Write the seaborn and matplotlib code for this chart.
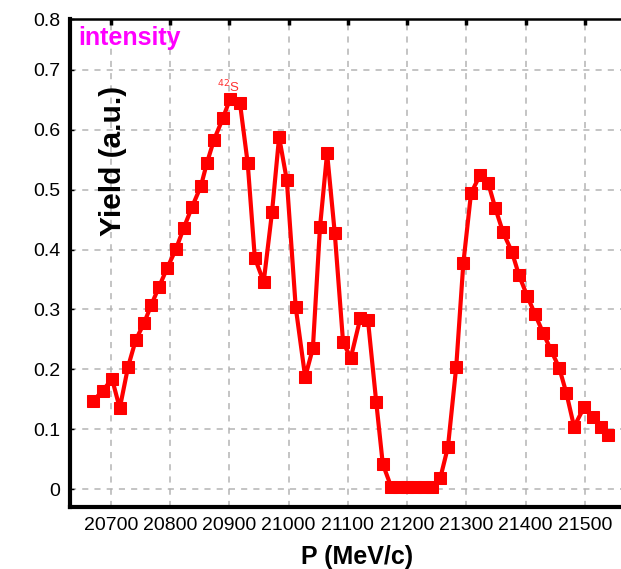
import matplotlib
matplotlib.use("Agg")
import matplotlib.pyplot as plt
import seaborn as sns
import pandas as pd

# ---- data ----
momentum = [20670, 20686, 20702, 20715, 20729, 20742, 20756, 20768, 20781, 20795,
            20810, 20823, 20837, 20852, 20862, 20874, 20889, 20901, 20918, 20931,
            20943, 20958, 20972, 20984, 20997, 21012, 21028, 21041, 21053, 21065,
            21078, 21092, 21105, 21121, 21134, 21148, 21159, 21173, 21187, 21200,
            21214, 21228, 21242, 21256, 21269, 21283, 21295, 21308, 21323, 21337,
            21349, 21362, 21377, 21389, 21403, 21416, 21430, 21443, 21457, 21469,
            21482, 21499, 21514, 21528, 21540]
yield_vals = [0.147, 0.164, 0.184, 0.135, 0.204, 0.249, 0.277, 0.307, 0.337, 0.369,
              0.401, 0.436, 0.471, 0.506, 0.544, 0.583, 0.619, 0.651, 0.644, 0.544,
              0.386, 0.346, 0.462, 0.588, 0.516, 0.304, 0.187, 0.235, 0.437, 0.561,
              0.427, 0.245, 0.219, 0.285, 0.282, 0.145, 0.042, 0.004, 0.004, 0.004,
              0.004, 0.004, 0.004, 0.018, 0.070, 0.204, 0.377, 0.494, 0.524, 0.511,
              0.469, 0.429, 0.396, 0.357, 0.322, 0.292, 0.260, 0.232, 0.202, 0.160,
              0.104, 0.137, 0.120, 0.104, 0.090]
x_ticks = [20700, 20800, 20900, 21000, 21100, 21200, 21300, 21400, 21500]
y_ticks = [0, 0.1, 0.2, 0.3, 0.4, 0.5, 0.6, 0.7]
y_tick_labels = ["0", "0.1", "0.2", "0.3", "0.4", "0.5", "0.6", "0.7"]
peak_label = "$^{42}$S"
peak_index = 17

df = pd.DataFrame({"P": momentum, "Yield": yield_vals})

sns.set_theme(style="white")
plt.rcParams['font.family'] = ['Liberation Sans', 'DejaVu Sans']

fig = plt.figure(figsize=(6.21, 5.69), dpi=100)
ax = fig.add_axes([70/621, 62/569, 574/621, 488/569])

sns.lineplot(data=df, x="P", y="Yield", ax=ax, color="#ff0000", linewidth=3,
             marker="s", markersize=8.5, markeredgecolor="#ff0000",
             markerfacecolor="#ff0000", legend=False)

ax.set_xlim(20631, 21600)
ytop = 0.785
ax.set_ylim(-0.030, ytop)
ax.set_xticks(x_ticks)
ax.set_xticklabels([str(t) for t in x_ticks])
ax.set_yticks(y_ticks + [ytop])
ax.set_yticklabels(y_tick_labels + ["0.8"])

ax.grid(True, linestyle=(0, (4, 4)), color="#b4b4b4", linewidth=1.1)
ax.tick_params(axis="both", direction="in", labelsize=14, pad=7, colors="black",
               labelcolor="black")
ax.tick_params(axis="x", top=True, length=4, width=2.5)
ax.tick_params(axis="y", left=True, length=3, width=1)

for side, lw in [("left", 3), ("bottom", 3), ("top", 1.8), ("right", 1.8)]:
    ax.spines[side].set_color("black")
    ax.spines[side].set_linewidth(lw)

ax.set_xlabel("P (MeV/c)", fontsize=18, fontweight="bold", labelpad=8, color="black")
ax.set_ylabel("Yield (a.u.)", fontsize=21.5, fontweight="bold", color="black")
ax.yaxis.set_label_coords(0.100, 0.709)

ax.text(0.014, 0.961, "intensity", transform=ax.transAxes, color="#ff00ff",
        fontsize=18, fontweight="bold", ha="left", va="center")

ax.annotate(peak_label, xy=(momentum[peak_index], yield_vals[peak_index]),
            xytext=(-1, 9), textcoords="offset points", ha="center", va="center",
            fontsize=9.5, color="#ff3030")

fig.savefig("out.png", dpi=100)
